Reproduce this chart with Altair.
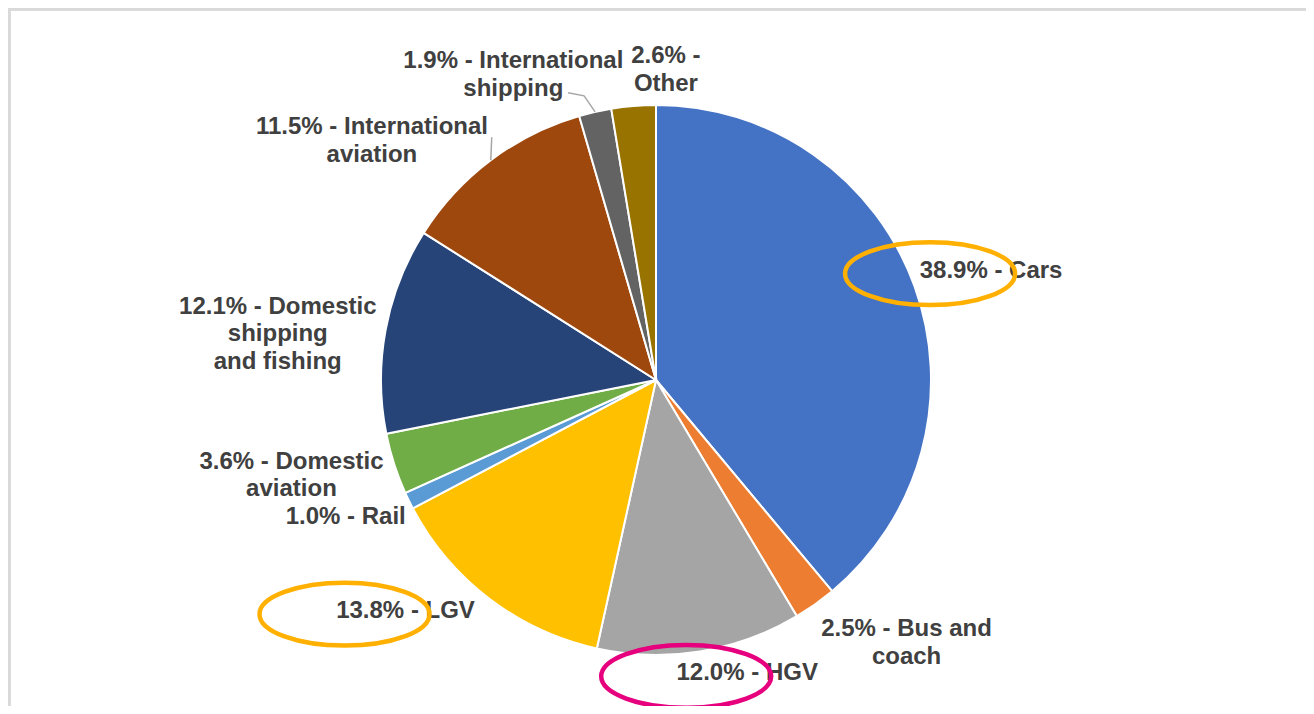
import math
import altair as alt
import pandas as pd

# ---- data ----
categories = ["Cars", "Bus and coach", "HGV", "LGV", "Rail", "Domestic aviation",
              "Domestic shipping and fishing", "International aviation",
              "International shipping", "Other"]
shares = [38.9, 2.5, 12.0, 13.8, 1.0, 3.6, 12.1, 11.5, 1.9, 2.6]
label_lines = ["38.9% - Cars", "2.5% - Bus and\ncoach", "12.0% - HGV", "13.8% - LGV",
               "1.0% - Rail", "3.6% - Domestic\naviation",
               "12.1% - Domestic\nshipping\nand fishing", "11.5% - International\naviation",
               "1.9% - International\nshipping", "2.6% -\nOther"]
colors = ["#4472C4", "#ED7D31", "#A5A5A5", "#FFC000", "#5B9BD5", "#70AD47",
          "#264478", "#9E480E", "#636363", "#997300"]

# ---- layout (pixels) ----
W, H = 1298, 698
CX, CY, R = 648, 372, 275
LABEL_R = R + 8
LINE_H = 27.5
label_dx = [69, 87, 46, -79, -56, -95, -100, -114, -80, 33]
label_dy = [-13, 32, 14, 6, 13, 9, 6, -13, -29, -28]
circled = {"Cars": "#FFB000", "LGV": "#FFB000", "HGV": "#E6007E"}

df = pd.DataFrame({"category": categories, "value": shares, "idx": range(len(shares)),
                   "label": label_lines})
total = df["value"].sum()
mid = (df["value"].cumsum() - df["value"] / 2) / total * 2 * math.pi
nlines = df["label"].str.count("\n")
df["ax"] = CX + LABEL_R * mid.apply(math.sin)
df["ay"] = CY - LABEL_R * mid.apply(math.cos)
df["lx"] = df["ax"] + label_dx
df["ly"] = df["ay"] + label_dy - nlines * LINE_H / 2
df["ex"] = R * mid.apply(math.sin) + CX
df["ey"] = CY - R * mid.apply(math.cos)

pie = alt.Chart(df).mark_arc(outerRadius=R, stroke="white", strokeWidth=2).encode(
    theta=alt.Theta("value:Q", stack=True),
    color=alt.Color("category:N", scale=alt.Scale(domain=categories, range=colors), legend=None),
    order=alt.Order("idx:Q"),
    x=alt.value(CX), y=alt.value(CY),
)

labels = alt.Chart(df).mark_text(
    font="Liberation Sans", fontWeight="bold", fontSize=24, color="#404040",
    lineBreak="\n", lineHeight=LINE_H, align="center", baseline="middle",
).encode(
    x=alt.X("lx:Q", scale=None), y=alt.Y("ly:Q", scale=None), text="label:N"
)

# leader lines for the two small top slices
lead_rows = []
ia = df[df.category == "International aviation"].iloc[0]
lead_rows += [{"k": "ia", "o": 0, "x": ia.ex, "y": ia.ey},
              {"k": "ia", "o": 1, "x": ia.ex + 1, "y": ia.ey - 23}]
ish = df[df.category == "International shipping"].iloc[0]
lead_rows += [{"k": "is", "o": 0, "x": ish.ex, "y": ish.ey},
              {"k": "is", "o": 1, "x": ish.ex - 11, "y": ish.ey - 16},
              {"k": "is", "o": 2, "x": ish.ex - 27, "y": ish.ey - 19}]
leaders = alt.Chart(pd.DataFrame(lead_rows)).mark_line(color="#A6A6A6", strokeWidth=1.5).encode(
    x=alt.X("x:Q", scale=None), y=alt.Y("y:Q", scale=None), detail="k:N", order="o:Q"
)

# hand-drawn style ellipses around three labels
ell = df[df.category.isin(list(circled))].copy()
ell["ecol"] = ell["category"].map(circled)
ell["cx"] = ell["lx"] - 61
ell["cy"] = ell["ly"] + 3
ellipse_path = "M -1 0 A 1 0.37 0 1 1 1 0 A 1 0.37 0 1 1 -1 0 Z"
ellipses = alt.Chart(ell).mark_point(shape=ellipse_path, filled=False, size=170 * 170,
                                     strokeWidth=4.5, opacity=1).encode(
    x=alt.X("cx:Q", scale=None), y=alt.Y("cy:Q", scale=None),
    stroke=alt.Stroke("ecol:N", scale=None),
)

border_top = alt.Chart(df).mark_rule(color="#D9D9D9", strokeWidth=2.5).encode(
    x=alt.value(0), x2=alt.value(W), y=alt.value(1))
border_left = alt.Chart(df).mark_rule(color="#D9D9D9", strokeWidth=2.5).encode(
    x=alt.value(1), y=alt.value(0), y2=alt.value(H))

chart = alt.layer(border_top, border_left, pie, leaders, labels, ellipses).properties(
    width=W, height=H, padding=0, autosize=alt.AutoSizeParams(type="none"),
    background="white",
).configure_view(strokeWidth=0)

chart.save("out.html", embed_options={"renderer": "svg", "actions": False})
